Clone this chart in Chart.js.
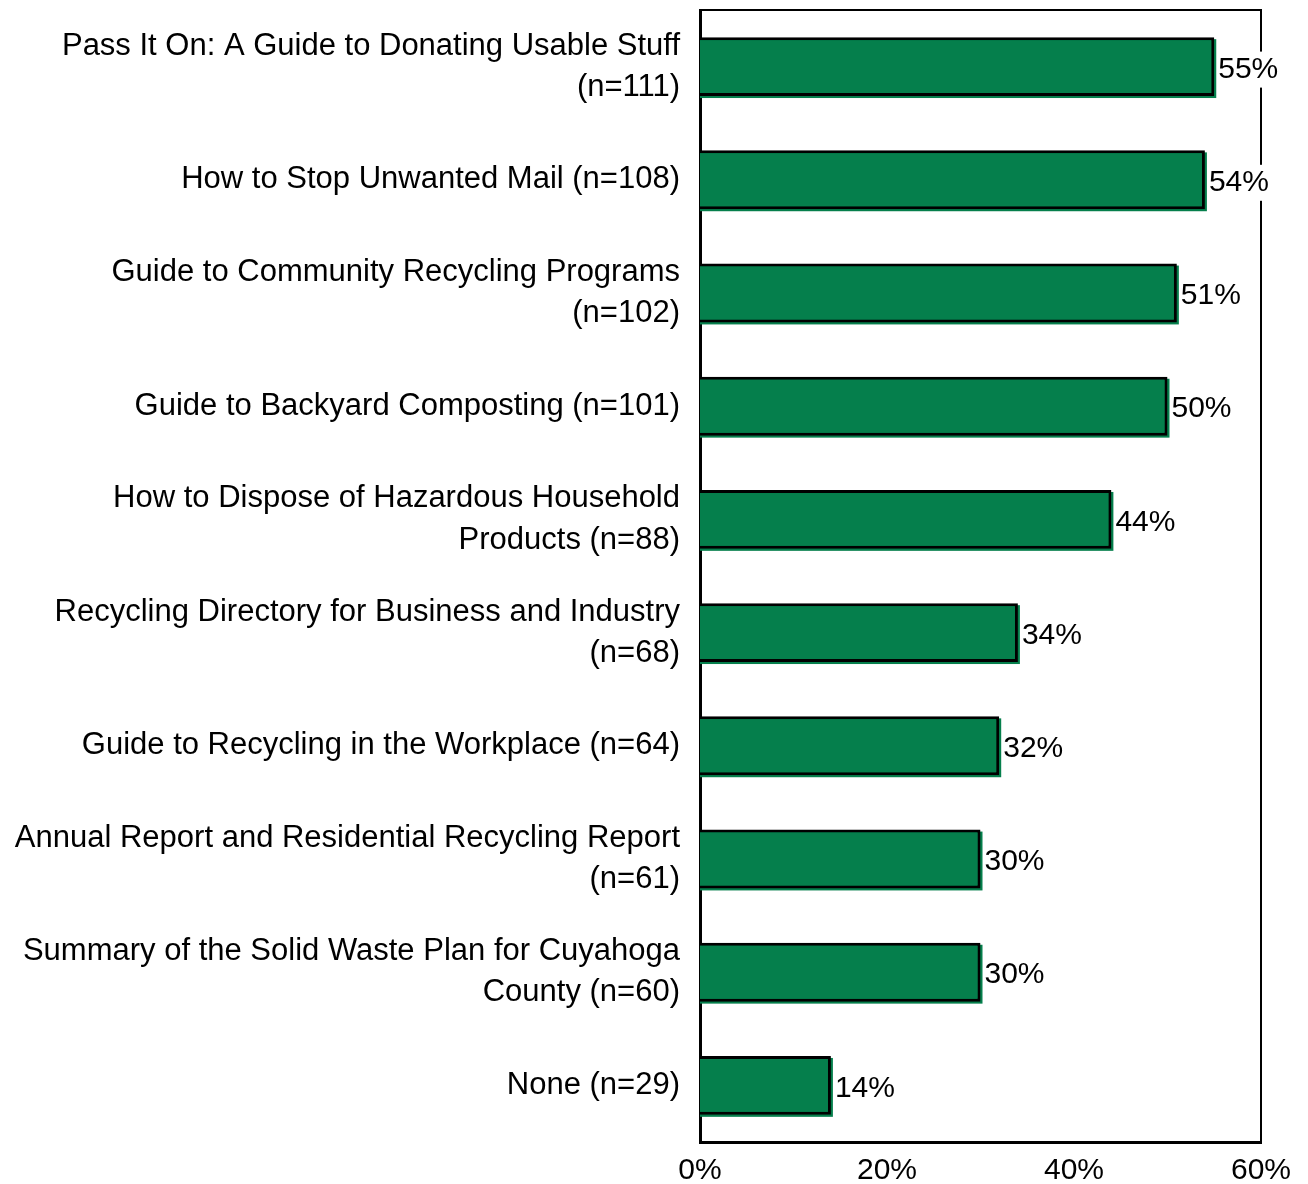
<!DOCTYPE html>
<html>
<head>
<meta charset="utf-8">
<script src="https://cdn.jsdelivr.net/npm/chart.js@4"></script>
<style>
html,body{margin:0;padding:0;background:#fff;}
#wrap{width:1308px;height:1184px;}
</style>
</head>
<body>
<div id="wrap"><canvas id="c" width="1308" height="1184"></canvas></div>
<script>
const categories = [
  ["Pass It On: A Guide to Donating Usable Stuff", "(n=111)"],
  ["How to Stop Unwanted Mail (n=108)"],
  ["Guide to Community Recycling Programs", "(n=102)"],
  ["Guide to Backyard Composting (n=101)"],
  ["How to Dispose of Hazardous Household", "Products (n=88)"],
  ["Recycling Directory for Business and Industry", "(n=68)"],
  ["Guide to Recycling in the Workplace (n=64)"],
  ["Annual Report and Residential Recycling Report", "(n=61)"],
  ["Summary of the Solid Waste Plan for Cuyahoga", "County (n=60)"],
  ["None (n=29)"]
];
const values = [55, 54, 51, 50, 44, 34, 32, 30, 30, 14];
const xTicks = [0, 20, 40, 60];

const FONT = "'Liberation Sans', Arial, sans-serif";
const GREEN = '#057f4c';
const FS = 30;
const LFS = 31;

const framePlugin = {
  id: 'frame',
  beforeDatasetsDraw(chart) {
    const {ctx, chartArea: a} = chart;
    ctx.save();
    ctx.strokeStyle = '#000';
    ctx.lineWidth = 2;
    ctx.beginPath();
    ctx.moveTo(a.left, a.top);
    ctx.lineTo(a.right, a.top);
    ctx.lineTo(a.right, a.bottom);
    ctx.stroke();
    const meta = chart.getDatasetMeta(0);
    ctx.fillStyle = GREEN;
    meta.data.forEach(bar => {
      const h = bar.height;
      ctx.fillRect(a.left, bar.y - h / 2 + 2, bar.x - a.left + 2, h);
    });
    ctx.restore();
  },
  afterDatasetsDraw(chart) {
    const {ctx} = chart;
    const meta = chart.getDatasetMeta(0);
    ctx.save();
    ctx.font = FS + 'px ' + FONT;
    ctx.textBaseline = 'middle';
    ctx.textAlign = 'left';
    meta.data.forEach((bar, i) => {
      const txt = values[i] + '%';
      const w = ctx.measureText(txt).width;
      const x = bar.x + 4;
      const y = bar.y + 3;
      ctx.fillStyle = '#fff';
      ctx.fillRect(x - 1, y - 18, w + 2, 36);
      ctx.fillStyle = '#000';
      ctx.fillText(txt, x, y);
    });
    ctx.restore();
  }
};

new Chart(document.getElementById('c'), {
  type: 'bar',
  data: {
    labels: categories,
    datasets: [{
      data: values,
      backgroundColor: GREEN,
      borderColor: '#000',
      borderWidth: 3,
      borderSkipped: 'start',
      barPercentage: 0.52,
      categoryPercentage: 1
    }]
  },
  options: {
    indexAxis: 'y',
    responsive: false,
    animation: false,
    devicePixelRatio: 1,
    layout: { padding: { top: 10, right: 47, left: 0, bottom: 0 } },
    plugins: { legend: { display: false }, tooltip: { enabled: false } },
    scales: {
      x: {
        min: 0, max: 60,
        afterBuildTicks(scale) { scale.ticks = xTicks.map(v => ({ value: v })); },
        afterFit(scale) { scale.height = 42; scale.paddingLeft = 0; scale.paddingRight = 0; },
        grid: { display: false, drawTicks: false },
        border: { display: true, color: '#000', width: 3 },
        ticks: {
          color: '#000',
          padding: 11,
          maxRotation: 0,
          font: { family: FONT, size: FS },
          callback: v => v + '%'
        }
      },
      y: {
        afterFit(scale) { scale.width = 700; scale.paddingTop = 0; scale.paddingBottom = 0; },
        grid: { display: false, drawTicks: false },
        border: { display: true, color: '#000', width: 3 },
        ticks: {
          color: '#000',
          padding: 20,
          autoSkip: false,
          font: { family: FONT, size: LFS, lineHeight: 1.33 }
        }
      }
    }
  },
  plugins: [framePlugin]
});
</script>
</body>
</html>
